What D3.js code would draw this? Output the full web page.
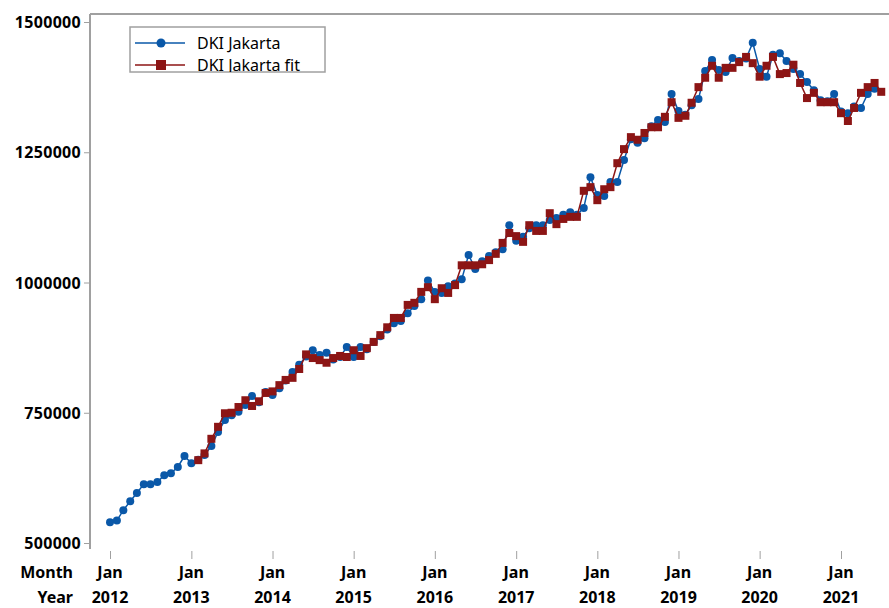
<!DOCTYPE html>
<html>
<head>
<meta charset="utf-8">
<script src="https://cdn.jsdelivr.net/npm/d3@7"></script>
<style>
  body { margin: 0; background: #fff; }
  text { font-family: "Noto Sans", "DejaVu Sans", sans-serif; }
</style>
</head>
<body>
<script>
let width = 889,
    height = 608;

// monthly series, first value is Jan 2012
let startYear = 2012;
let actual = [540000, 543000, 563000, 580000, 596000, 613000, 613000, 617000, 630000, 634000,
              646000, 667000, 653000, 660000, 669000, 686000, 713000, 736000, 745000, 752000,
              765000, 782000, 770000, 790000, 784000, 797000, 812000, 828000, 842000, 858000,
              870000, 861000, 865000, 852000, 857000, 876000, 857000, 876000, 872000, 886000,
              897000, 910000, 922000, 926000, 941000, 955000, 968000, 1004000, 982000, 980000,
              993000, 998000, 1006000, 1053000, 1026000, 1041000, 1051000, 1058000, 1064000, 1110000,
              1080000, 1088000, 1104000, 1110000, 1110000, 1120000, 1124000, 1130000, 1135000, 1130000,
              1143000, 1202000, 1168000, 1166000, 1193000, 1193000, 1235000, 1275000, 1268000, 1277000,
              1300000, 1312000, 1308000, 1362000, 1329000, 1322000, 1340000, 1352000, 1406000, 1427000,
              1408000, 1404000, 1431000, 1425000, 1430000, 1460000, 1410000, 1395000, 1437000, 1440000,
              1425000, 1410000, 1400000, 1385000, 1369000, 1350000, 1348000, 1362000, 1328000, 1325000,
              1338000, 1335000, 1362000, 1372000];

// fitted values start at Feb 2013 (month 13)
let fitStart = 13;
let fitted = [659000, 672000, 700000, 723000, 749000, 750000, 761000, 774000, 763000, 772000,
              788000, 791000, 803000, 813000, 817000, 834000, 862000, 855000, 851000, 846000,
              855000, 859000, 857000, 870000, 859000, 874000, 886000, 899000, 914000, 932000,
              932000, 957000, 961000, 982000, 991000, 968000, 989000, 980000, 995000, 1033000,
              1033000, 1033000, 1035000, 1043000, 1055000, 1076000, 1095000, 1089000, 1078000, 1110000,
              1099000, 1099000, 1133000, 1112000, 1122000, 1126000, 1126000, 1176000, 1183000, 1158000,
              1179000, 1183000, 1229000, 1256000, 1279000, 1274000, 1287000, 1298000, 1298000, 1318000,
              1346000, 1316000, 1320000, 1345000, 1375000, 1393000, 1416000, 1393000, 1412000, 1412000,
              1423000, 1433000, 1421000, 1395000, 1416000, 1433000, 1400000, 1402000, 1418000, 1383000,
              1354000, 1364000, 1346000, 1346000, 1346000, 1325000, 1310000, 1335000, 1364000, 1375000,
              1383000, 1366000];

let yTicks = [500000, 750000, 1000000, 1250000, 1500000];
let years = [2012, 2013, 2014, 2015, 2016, 2017, 2018, 2019, 2020, 2021];
let seriesNames = ["DKI Jakarta", "DKI Jakarta fit"];

let blue = "#0a58a8",
    red = "#8c1515",
    frame = "#a0a0a0";

let month = function(i) { return new Date(startYear, i, 1); };

let svg = d3.select("body")
            .append("svg")
            .attr("width", width)
            .attr("height", height);

let xScale = d3.scaleTime()
               .domain([new Date(2012, 0, 1), new Date(2021, 0, 1)])
               .range([110, 841]);

let yScale = d3.scaleLinear()
               .domain([500000, 1500000])
               .range([543, 22]);

// frame: top and left only
svg.append("line")
   .attr("x1", 90).attr("x2", width).attr("y1", 14).attr("y2", 14)
   .attr("stroke", frame).attr("stroke-width", 2);
svg.append("line")
   .attr("x1", 90).attr("x2", 90).attr("y1", 14).attr("y2", 549)
   .attr("stroke", frame).attr("stroke-width", 2);

// y axis
let yAxis = svg.append("g")
   .attr("transform", "translate(89,0)")
   .call(d3.axisLeft(yScale).tickValues(yTicks).tickSize(5).tickPadding(3).tickFormat(d3.format("d")));
yAxis.select(".domain").remove();
yAxis.selectAll("line").attr("stroke", frame);
yAxis.selectAll("text")
   .attr("fill", "#000")
   .style("font-size", "16px")
   .style("font-weight", "bold")
   .style("letter-spacing", "0.3px")
   .attr("dy", "0.35em");

// x axis
let xAxis = svg.append("g")
   .attr("transform", "translate(0,551)")
   .call(d3.axisBottom(xScale)
           .tickValues(years.map(function(y) { return new Date(y, 0, 1); }))
           .tickSize(8)
           .tickFormat(""));
xAxis.select(".domain").remove();
xAxis.selectAll("line").attr("stroke", frame);

svg.selectAll(".mlab")
   .data(years)
   .enter()
   .append("text")
   .attr("x", function(d) { return xScale(new Date(d, 0, 1)); })
   .attr("y", 578)
   .attr("text-anchor", "middle")
   .style("font-size", "16px")
   .style("font-weight", "bold")
   .text("Jan");

svg.selectAll(".ylab")
   .data(years)
   .enter()
   .append("text")
   .attr("x", function(d) { return xScale(new Date(d, 0, 1)); })
   .attr("y", 603)
   .attr("text-anchor", "middle")
   .style("font-size", "16px")
   .style("font-weight", "bold")
   .text(function(d) { return d; });

svg.append("text").attr("x", 73).attr("y", 578).attr("text-anchor", "end")
   .style("font-size", "16px").style("font-weight", "bold").text("Month");
svg.append("text").attr("x", 73).attr("y", 603).attr("text-anchor", "end")
   .style("font-size", "16px").style("font-weight", "bold").text("Year");

// series
let line = d3.line()
             .x(function(d) { return xScale(month(d.i)); })
             .y(function(d) { return yScale(d.v); });

let actualPts = actual.map(function(v, i) { return {i: i, v: v}; });
let fitPts = fitted.map(function(v, i) { return {i: i + fitStart, v: v}; });

svg.append("path")
   .datum(actualPts)
   .attr("d", line)
   .attr("fill", "none")
   .attr("stroke", blue)
   .attr("stroke-width", 1.5);

svg.selectAll(".dot")
   .data(actualPts)
   .enter()
   .append("circle")
   .attr("cx", function(d) { return xScale(month(d.i)); })
   .attr("cy", function(d) { return yScale(d.v); })
   .attr("r", 4)
   .attr("fill", blue);

svg.append("path")
   .datum(fitPts)
   .attr("d", line)
   .attr("fill", "none")
   .attr("stroke", red)
   .attr("stroke-width", 1.5);

svg.selectAll(".sq")
   .data(fitPts)
   .enter()
   .append("rect")
   .attr("x", function(d) { return xScale(month(d.i)) - 4; })
   .attr("y", function(d) { return yScale(d.v) - 4; })
   .attr("width", 8)
   .attr("height", 8)
   .attr("fill", red);

// legend (second row is clipped by the box, as in the original)
svg.append("clipPath").attr("id", "legclip")
   .append("rect").attr("x", 130).attr("y", 27).attr("width", 195).attr("height", 45);

let legend = svg.append("g");
legend.append("rect")
   .attr("x", 130).attr("y", 27).attr("width", 195).attr("height", 45)
   .attr("fill", "#fff").attr("stroke", frame).attr("stroke-width", 1.5);

let items = legend.append("g").attr("clip-path", "url(#legclip)");
let legColors = [blue, red];
seriesNames.forEach(function(name, i) {
  let y = 43 + i * 22;
  items.append("line").attr("x1", 135).attr("x2", 185).attr("y1", y).attr("y2", y)
       .attr("stroke", legColors[i]).attr("stroke-width", 1.5);
  if (i === 0) {
    items.append("circle").attr("cx", 161).attr("cy", y).attr("r", 4.5).attr("fill", blue);
  } else {
    items.append("rect").attr("x", 156).attr("y", y - 5).attr("width", 10).attr("height", 10).attr("fill", red);
  }
  items.append("text").attr("x", 197).attr("y", y + 6)
       .style("font-size", "16px").attr("fill", "#000").text(name);
});
</script>
</body>
</html>
